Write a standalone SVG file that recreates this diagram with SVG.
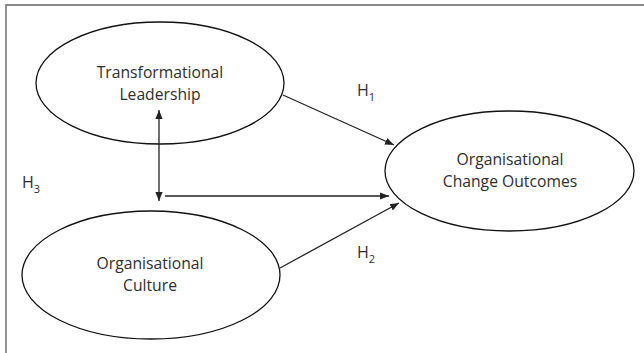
<svg xmlns="http://www.w3.org/2000/svg" width="644" height="353" viewBox="0 0 644 353">
<style>
.n{fill:#fff;stroke:#111;stroke-width:1.3}
.t{font-family:"Open Sans","Liberation Sans",sans-serif;font-size:15.7px;fill:#2e2e2e;text-anchor:middle}
.h{font-family:"Open Sans","Liberation Sans",sans-serif;font-size:16px;fill:#2e2e2e}
.s{font-size:11px}
.c{stroke:#222;stroke-width:1.3;fill:none}
</style>
<defs>
<marker id="a" viewBox="0 0 10 10" refX="10" refY="5" markerWidth="9" markerHeight="9" markerUnits="userSpaceOnUse" orient="auto-start-reverse">
<path d="M0,1 L10,5 L0,9 z" fill="#222"/>
</marker>
</defs>
<rect width="644" height="353" fill="#fff"/>
<path d="M6,353 V5 H644" fill="none" stroke="#888" stroke-width="1.8"/>
<g id="tl">
<ellipse class="n" cx="160" cy="83" rx="124" ry="61"/>
<text class="t" x="160" y="78">Transformational</text>
<text class="t" x="160" y="100">Leadership</text>
</g>
<g id="oco">
<ellipse class="n" cx="509.5" cy="171" rx="124.5" ry="60"/>
<text class="t" x="510" y="165">Organisational</text>
<text class="t" x="510" y="187">Change Outcomes</text>
</g>
<g id="oc">
<ellipse class="n" cx="151" cy="275" rx="129" ry="64"/>
<text class="t" x="150" y="269">Organisational</text>
<text class="t" x="150" y="291">Culture</text>
</g>
<g id="connectors">
<line class="c" x1="159" y1="110" x2="159" y2="201" marker-start="url(#a)" marker-end="url(#a)"/>
<line class="c" x1="165" y1="196" x2="389" y2="196" marker-end="url(#a)"/>
<line class="c" x1="283" y1="95" x2="394" y2="145" marker-end="url(#a)"/>
<line class="c" x1="280" y1="268" x2="399" y2="203" marker-end="url(#a)"/>
</g>
<g id="labels">
<text class="h" x="357" y="96">H<tspan class="s" dy="5">1</tspan></text>
<text class="h" x="357" y="258">H<tspan class="s" dy="5">2</tspan></text>
<text class="h" x="22" y="188">H<tspan class="s" dy="5">3</tspan></text>
</g>
</svg>
